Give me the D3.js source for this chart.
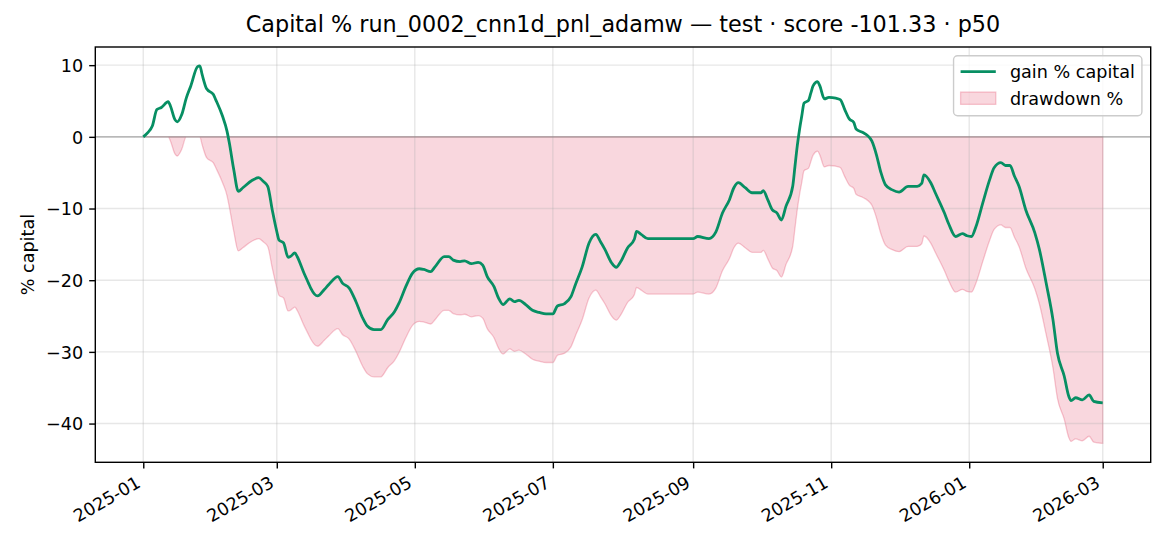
<!DOCTYPE html>
<html><head><meta charset="utf-8">
<script src="https://cdn.jsdelivr.net/npm/d3@7"></script>
<style>body{margin:0;background:#fff} text{font-family:"DejaVu Sans",sans-serif;fill:#000}</style>
</head><body><svg id="c" width="1170" height="546"></svg>
<script>
const dates = [
"2025-01-01","2025-01-03","2025-01-05","2025-01-07","2025-01-09","2025-01-12","2025-01-13","2025-01-15","2025-01-16","2025-01-18","2025-01-20","2025-01-22","2025-01-25","2025-01-26","2025-01-27","2025-01-29",
"2025-02-01","2025-02-02","2025-02-05","2025-02-07","2025-02-08","2025-02-10","2025-02-12","2025-02-14","2025-02-18","2025-02-21","2025-02-23","2025-02-25","2025-02-27",
"2025-03-01","2025-03-02","2025-03-04","2025-03-06","2025-03-07","2025-03-09","2025-03-10","2025-03-13","2025-03-15","2025-03-16","2025-03-19","2025-03-22","2025-03-24","2025-03-28","2025-03-30",
"2025-04-02","2025-04-05","2025-04-08","2025-04-10","2025-04-13","2025-04-16","2025-04-19","2025-04-22","2025-04-24","2025-04-27","2025-04-30",
"2025-05-03","2025-05-05","2025-05-08","2025-05-10","2025-05-14","2025-05-16","2025-05-18","2025-05-21","2025-05-23","2025-05-26","2025-05-29","2025-05-31",
"2025-06-02","2025-06-05","2025-06-07","2025-06-09","2025-06-12","2025-06-14","2025-06-16","2025-06-19","2025-06-22","2025-06-25","2025-06-28",
"2025-07-01","2025-07-03","2025-07-06","2025-07-09","2025-07-11","2025-07-14","2025-07-17","2025-07-20","2025-07-22","2025-07-24","2025-07-27","2025-07-29","2025-07-31",
"2025-08-03","2025-08-06","2025-08-07","2025-08-09","2025-08-12","2025-08-17","2025-08-23","2025-08-26",
"2025-09-01","2025-09-03","2025-09-08","2025-09-11","2025-09-14","2025-09-17","2025-09-19","2025-09-21","2025-09-24","2025-09-27",
"2025-10-01","2025-10-02","2025-10-04","2025-10-06","2025-10-08","2025-10-10","2025-10-12","2025-10-15","2025-10-16","2025-10-17","2025-10-18","2025-10-19","2025-10-20","2025-10-22","2025-10-23","2025-10-24","2025-10-26","2025-10-27","2025-10-29","2025-10-31",
"2025-11-03","2025-11-05","2025-11-07","2025-11-09","2025-11-11","2025-11-12","2025-11-15","2025-11-17","2025-11-19","2025-11-21","2025-11-23","2025-11-25","2025-11-28",
"2025-12-01","2025-12-05","2025-12-09","2025-12-11","2025-12-12","2025-12-15","2025-12-17","2025-12-21","2025-12-23","2025-12-26","2025-12-29","2025-12-31",
"2026-01-02","2026-01-04","2026-01-07","2026-01-10","2026-01-12","2026-01-15","2026-01-17","2026-01-19","2026-01-21","2026-01-23","2026-01-26","2026-01-30",
"2026-02-01","2026-02-04","2026-02-07","2026-02-09","2026-02-12","2026-02-14","2026-02-15","2026-02-17","2026-02-20","2026-02-23","2026-02-25",
"2026-03-01"];
const gain = [
0,0.6,1.5,3.8,4.1,4.9,4.3,2.4,2.1,3.1,5.4,7.1,9.8,9.9,8.7,6.7,
5.9,5.2,2.9,0.8,-0.8,-4.6,-7.6,-7.1,-6.1,-5.7,-6.2,-6.9,-10.2,
-13.2,-14.4,-14.8,-16.8,-16.7,-16.2,-16.7,-19.0,-20.4,-21.1,-22.2,-21.3,-20.6,-19.5,-20.4,
-21.1,-23.0,-25.3,-26.4,-26.9,-26.9,-25.5,-24.4,-23.2,-20.9,-19.0,
-18.4,-18.5,-18.8,-18.1,-16.7,-16.7,-17.2,-17.4,-17.3,-17.7,-17.5,-17.9,
-19.5,-20.9,-22.5,-23.4,-22.6,-23.0,-22.8,-23.4,-24.2,-24.5,-24.7,
-24.7,-23.6,-23.3,-22.3,-20.6,-18.1,-14.8,-13.6,-14.6,-15.7,-17.6,-18.2,-17.4,
-15.5,-14.3,-13.2,-13.6,-14.2,-14.2,-14.2,-14.2,
-14.2,-13.9,-14.2,-13.3,-10.6,-8.8,-7.1,-6.4,-7.1,-7.8,
-7.8,-7.5,-8.8,-10.2,-10.6,-11.6,-9.7,-6.9,-4.1,-1.3,1.0,2.9,4.7,5.1,6.1,7.1,7.7,7.1,5.3,5.5,
5.4,5.2,3.8,2.5,2.0,1.1,0.6,0.2,-0.6,-2.5,-5.0,-6.7,-7.4,
-7.7,-6.9,-6.9,-6.5,-5.3,-6.4,-7.8,-10.6,-12.2,-13.9,-13.5,-13.8,
-13.9,-12.5,-9.2,-6.0,-4.3,-3.6,-4.0,-4.0,-5.5,-6.9,-10.2,-13.4,
-15.7,-20.4,-25.5,-30.2,-33.4,-36.2,-36.8,-36.4,-36.7,-36.0,-36.9,
-37.1];
const drawdown = [
0,0,0,0,0,0,-0.57,-2.38,-2.67,-1.72,0,0,0,0,-1.09,-2.91,
-3.64,-4.28,-6.37,-8.19,-9.74,-13.19,-15.92,-15.47,-14.56,-14.20,-14.65,-15.29,-18.29,
-21.02,-22.11,-22.48,-24.29,-24.20,-23.75,-24.20,-26.30,-27.57,-28.21,-29.21,-28.39,-27.75,-26.75,-27.57,
-28.21,-29.94,-32.03,-33.03,-33.48,-33.48,-32.21,-31.21,-30.12,-28.03,-26.30,
-25.75,-25.84,-26.11,-25.48,-24.20,-24.20,-24.66,-24.84,-24.75,-25.11,-24.93,-25.30,
-26.75,-28.03,-29.48,-30.30,-29.57,-29.94,-29.75,-30.30,-31.03,-31.30,-31.48,
-31.48,-30.48,-30.21,-29.30,-27.75,-25.48,-22.48,-21.38,-22.29,-23.29,-25.02,-25.57,-24.84,
-23.11,-22.02,-21.02,-21.38,-21.93,-21.93,-21.93,-21.93,
-21.93,-21.66,-21.93,-21.11,-18.65,-17.02,-15.47,-14.83,-15.47,-16.11,
-16.11,-15.83,-17.02,-18.29,-18.65,-19.56,-17.83,-15.29,-12.74,-10.19,-8.10,-6.37,-4.73,-4.37,-3.46,-2.55,-2.00,-2.55,-4.19,-4.00,
-4.09,-4.28,-5.55,-6.73,-7.19,-8.01,-8.46,-8.83,-9.55,-11.28,-13.56,-15.10,-15.74,
-16.02,-15.29,-15.29,-14.92,-13.83,-14.83,-16.11,-18.65,-20.11,-21.66,-21.29,-21.57,
-21.66,-20.38,-17.38,-14.47,-12.92,-12.28,-12.65,-12.65,-14.01,-15.29,-18.29,-21.20,
-23.29,-27.57,-32.21,-36.49,-39.40,-41.95,-42.49,-42.13,-42.40,-41.77,-42.58,
-42.77];
const xTickLabels = ["2025-01","2025-03","2025-05","2025-07","2025-09","2025-11","2026-01","2026-03"];
const yTickValues = [10,0,-10,-20,-30,-40];
const titleText = "Capital % run_0002_cnn1d_pnl_adamw — test · score -101.33 · p50";
const yLabelText = "% capital";
const seriesNames = ["gain % capital","drawdown %"];

const L=95.3,R=1150.7,T=47,B=462.3;
const FS=17.6, TK=6.1, LW=1.4;
const green="#078f63", pink="#dc143c";
const svg=d3.select("#c");
const parse=d3.utcParse("%Y-%m-%d"), parseM=d3.utcParse("%Y-%m");
const data=dates.map((d,i)=>({t:parse(d),g:gain[i],dd:drawdown[i]}));
const te=d3.extent(data,d=>d.t), span=te[1]-te[0];
const x=d3.scaleUtc().domain([new Date(+te[0]-0.05*span),new Date(+te[1]+0.05*span)]).range([L,R]);
const all=gain.concat(drawdown), vmin=d3.min(all), vmax=d3.max(all), vs=vmax-vmin;
const y=d3.scaleLinear().domain([vmin-0.05*vs,vmax+0.05*vs]).range([B,T]);
const xTicks=xTickLabels.map(s=>parseM(s));

svg.append("defs").append("clipPath").attr("id","clip").append("rect").attr("x",L).attr("y",T).attr("width",R-L).attr("height",B-T);
const plot=svg.append("g").attr("clip-path","url(#clip)");

// drawdown fill
const area=d3.area().x(d=>x(d.t)).y0(y(0)).y1(d=>y(d.dd)).curve(d3.curveMonotoneX);
plot.append("path").datum(data).attr("d",area).attr("fill",pink).attr("fill-opacity",0.17)
  .attr("stroke",pink).attr("stroke-opacity",0.22).attr("stroke-width",1.3);

// grid
const grid=plot.append("g").attr("stroke","#b0b0b0").attr("stroke-opacity",0.3).attr("stroke-width",LW);
grid.selectAll(".gx").data(xTicks).join("line").attr("x1",d=>x(d)).attr("x2",d=>x(d)).attr("y1",T).attr("y2",B);
grid.selectAll(".gy").data(yTickValues).join("line").attr("y1",d=>y(d)).attr("y2",d=>y(d)).attr("x1",L).attr("x2",R);

// zero line
plot.append("line").attr("x1",L).attr("x2",R).attr("y1",y(0)).attr("y2",y(0))
  .attr("stroke","#808080").attr("stroke-opacity",0.65).attr("stroke-width",LW);

// gain line
const line=d3.line().x(d=>x(d.t)).y(d=>y(d.g)).curve(d3.curveMonotoneX);
plot.append("path").datum(data).attr("d",line).attr("fill","none").attr("stroke",green)
  .attr("stroke-width",2.8).attr("stroke-linejoin","round").attr("stroke-linecap","butt");

// axes
const xAxis=d3.axisBottom(x).tickValues(xTicks).tickFormat(d3.utcFormat("%Y-%m")).tickSize(TK).tickPadding(TK);
const gx=svg.append("g").attr("transform",`translate(0,${B})`).call(xAxis);
gx.select(".domain").remove();
gx.selectAll(".tick line").attr("stroke","#000").attr("stroke-width",LW);
gx.selectAll(".tick text").attr("font-size",FS).attr("font-family","DejaVu Sans")
  .attr("text-anchor","end").attr("dy",null).attr("y",null)
  .attr("transform",`translate(${-0.12*FS},${2*TK+0.66*FS}) rotate(-30)`);

const yAxis=d3.axisLeft(y).tickValues(yTickValues).tickFormat(d=>d3.format("d")(d).replace("-","\u2212")).tickSize(TK).tickPadding(TK);
const gy=svg.append("g").attr("transform",`translate(${L},0)`).call(yAxis);
gy.select(".domain").remove();
gy.selectAll(".tick line").attr("stroke","#000").attr("stroke-width",LW);
gy.selectAll(".tick text").attr("font-size",FS).attr("font-family","DejaVu Sans").attr("dy","0.36em");

// frame
svg.append("rect").attr("x",L).attr("y",T).attr("width",R-L).attr("height",B-T)
  .attr("fill","none").attr("stroke","#000").attr("stroke-width",LW);

// title
svg.append("text").attr("x",(L+R)/2).attr("y",31.5).attr("text-anchor","middle")
  .attr("font-size",22.3).text(titleText);

// y label
svg.append("text").attr("transform",`translate(34,${(T+B)/2}) rotate(-90)`).attr("text-anchor","middle")
  .attr("font-size",FS).text(yLabelText);

// legend
const pad=0.4*FS, hl=2*FS, htp=0.8*FS;
const lg=svg.append("g");
const tmp=lg.append("text").attr("font-size",FS).text(seriesNames[0]);
const w0=tmp.node().getComputedTextLength(); tmp.text(seriesNames[1]);
const tw=Math.max(w0,tmp.node().getComputedTextLength());
tmp.remove();
const bw=pad*2+hl+htp+tw, bh=60;
const bx=R-0.5*FS-bw, by=T+0.5*FS;
lg.append("rect").attr("x",bx).attr("y",by).attr("width",bw).attr("height",bh).attr("rx",4)
  .attr("fill","#fff").attr("fill-opacity",0.8).attr("stroke","#cccccc").attr("stroke-width",LW);
const r1=by+15.9, r2=r1+26.5;
lg.append("line").attr("x1",bx+pad).attr("x2",bx+pad+hl).attr("y1",r1).attr("y2",r1).attr("stroke",green).attr("stroke-width",2.8);
lg.append("rect").attr("x",bx+pad).attr("y",r2-0.35*FS).attr("width",hl).attr("height",0.7*FS)
  .attr("fill",pink).attr("fill-opacity",0.17).attr("stroke",pink).attr("stroke-opacity",0.22).attr("stroke-width",1.3);
lg.append("text").attr("x",bx+pad+hl+htp).attr("y",r1).attr("dy","0.36em").attr("font-size",FS).text(seriesNames[0]);
lg.append("text").attr("x",bx+pad+hl+htp).attr("y",r2).attr("dy","0.36em").attr("font-size",FS).text(seriesNames[1]);
</script></body></html>
